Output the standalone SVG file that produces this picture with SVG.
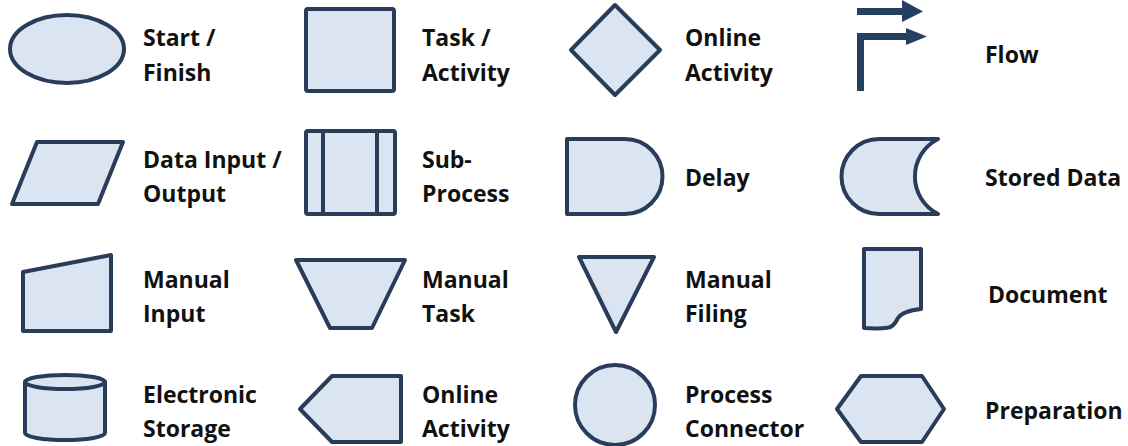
<svg xmlns="http://www.w3.org/2000/svg" width="1128" height="446" viewBox="0 0 1128 446">
  <style>
    .shape { fill: #dbe5f1; stroke: #293d5a; stroke-width: 4; stroke-linejoin: round; }
    .line { fill: none; stroke: #293d5a; stroke-width: 4; }
    .arrow { fill: #243f60; }
    .label { font-family: "Open Sans", "Liberation Sans", sans-serif; font-weight: 700; font-size: 23px; fill: #111111; }
  </style>
  <rect width="1128" height="446" fill="#ffffff"/>

  <!-- Row 1 -->
  <g id="start-finish">
    <ellipse class="shape" cx="67" cy="49" rx="57" ry="34"/>
    <text class="label" x="143" y="46">Start /</text>
    <text class="label" x="143" y="81">Finish</text>
  </g>
  <g id="task-activity">
    <rect class="shape" x="306" y="9" width="88" height="82" rx="2"/>
    <text class="label" x="422" y="46">Task /</text>
    <text class="label" x="422" y="81">Activity</text>
  </g>
  <g id="online-activity-diamond">
    <polygon class="shape" points="615,5 660,50 615,95 571,50"/>
    <text class="label" x="685" y="46">Online</text>
    <text class="label" x="685" y="81">Activity</text>
  </g>
  <g id="flow">
    <g id="connectors">
      <rect class="arrow" x="857" y="8" width="47" height="7"/>
      <polygon class="arrow" points="902,0 923,11.5 902,22"/>
      <rect class="arrow" x="857" y="33" width="7" height="58"/>
      <rect class="arrow" x="857" y="33" width="52" height="7"/>
      <polygon class="arrow" points="906,28 927,36.5 906,45"/>
    </g>
    <text class="label" x="985" y="63">Flow</text>
  </g>

  <!-- Row 2 -->
  <g id="data-input-output">
    <polygon class="shape" points="37,142 123,142 98,204 12,204"/>
    <text class="label" x="143" y="168">Data Input /</text>
    <text class="label" x="143" y="202">Output</text>
  </g>
  <g id="sub-process">
    <rect class="shape" x="306" y="131" width="89" height="83" rx="2"/>
    <line class="line" x1="323" y1="131" x2="323" y2="214"/>
    <line class="line" x1="377" y1="131" x2="377" y2="214"/>
    <text class="label" x="422" y="168">Sub-</text>
    <text class="label" x="422" y="202">Process</text>
  </g>
  <g id="delay">
    <path class="shape" d="M567,139 H625 A37.5,37.5 0 0 1 625,214 H567 Z"/>
    <text class="label" x="685" y="186">Delay</text>
  </g>
  <g id="stored-data">
    <path class="shape" d="M879,139 H938 A42,42 0 0 0 938,214 H879 A37.5,37.5 0 0 1 879,139 Z"/>
    <text class="label" x="985" y="186">Stored Data</text>
  </g>

  <!-- Row 3 -->
  <g id="manual-input">
    <polygon class="shape" points="23,272 111,255 111,331 23,331"/>
    <text class="label" x="143" y="288">Manual</text>
    <text class="label" x="143" y="322">Input</text>
  </g>
  <g id="manual-task">
    <polygon class="shape" points="296,260 405,260 372,328 330,328"/>
    <text class="label" x="422" y="288">Manual</text>
    <text class="label" x="422" y="322">Task</text>
  </g>
  <g id="manual-filing">
    <polygon class="shape" points="579,257 654,257 616,332"/>
    <text class="label" x="685" y="288">Manual</text>
    <text class="label" x="685" y="322">Filing</text>
  </g>
  <g id="document">
    <path class="shape" d="M864,249 H921 V309 C911,310 902,312 898,318 C895,324 892,328 885,328 C878,329 870,328 864,328 Z"/>
    <text class="label" x="988" y="303">Document</text>
  </g>

  <!-- Row 4 -->
  <g id="electronic-storage">
    <path class="shape" d="M25,382 V433 A40,7 0 0 0 105,433 V382 Z"/>
    <ellipse class="shape" cx="65" cy="382" rx="40" ry="7"/>
    <text class="label" x="143" y="403">Electronic</text>
    <text class="label" x="143" y="437">Storage</text>
  </g>
  <g id="online-activity-pentagon">
    <polygon class="shape" points="300,409 332,376 401,376 401,442 332,442"/>
    <text class="label" x="422" y="403">Online</text>
    <text class="label" x="422" y="437">Activity</text>
  </g>
  <g id="process-connector">
    <circle class="shape" cx="615" cy="405" r="40"/>
    <text class="label" x="685" y="403">Process</text>
    <text class="label" x="685" y="437">Connector</text>
  </g>
  <g id="preparation">
    <polygon class="shape" points="837,409 861,376 922,376 944,409 922,442 861,442"/>
    <text class="label" x="985" y="419">Preparation</text>
  </g>
</svg>
